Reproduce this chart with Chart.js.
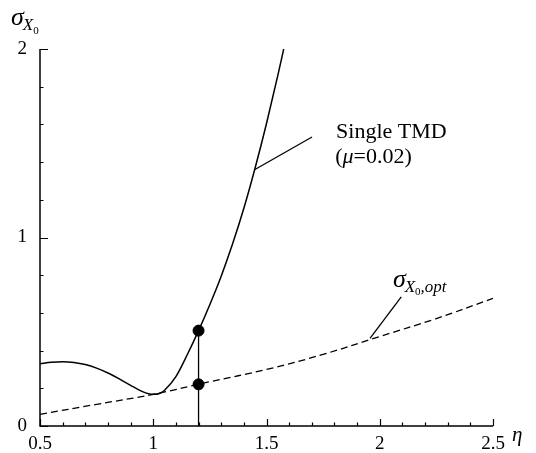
<!DOCTYPE html>
<html>
<head>
<meta charset="utf-8">
<script src="https://cdn.jsdelivr.net/npm/chart.js@4.4.1/dist/chart.umd.min.js"></script>
<style>
  html, body { margin: 0; padding: 0; background: #fff; }
  canvas { display: block; }
</style>
</head>
<body>
<canvas id="tmdChart" width="536" height="453"></canvas>
<script>
// response of the single TMD (mu = 0.02) against frequency ratio eta
const etaSingle = [0.5, 0.55, 0.6, 0.65, 0.7, 0.75, 0.8, 0.85, 0.9, 0.95, 0.98, 1.0, 1.03, 1.05, 1.1, 1.15, 1.2, 1.25, 1.3, 1.35, 1.4, 1.45, 1.5, 1.55, 1.576];
const sigmaSingle = [0.330, 0.338, 0.341, 0.337, 0.326, 0.307, 0.281, 0.250, 0.216, 0.184, 0.171, 0.168, 0.174, 0.190, 0.262, 0.378, 0.506, 0.645, 0.795, 0.965, 1.155, 1.370, 1.605, 1.860, 2.0];

// optimal response
const etaOpt = [0.5, 0.75, 1.0, 1.25, 1.5, 1.75, 2.0, 2.25, 2.5];
const sigmaOpt = [0.062, 0.115, 0.168, 0.235, 0.300, 0.380, 0.475, 0.570, 0.677];

// marked design point
const markEta = [1.2, 1.2];
const markSigma = [0.506, 0.221];

// leader lines for the curve labels
const singleLeaderEta = [1.445, 1.701];
const singleLeaderSigma = [1.358, 1.533];
const optLeaderEta = [1.957, 2.095];
const optLeaderSigma = [0.465, 0.685];

const xTicks = [0.5, 1, 1.5, 2, 2.5];
const yTicks = [0, 1, 2];

const serif = '"Liberation Serif", "Times New Roman", serif';

const pts = (xs, ys) => xs.map((x, i) => ({ x: x, y: ys[i] }));

// draws a run of text pieces, each with its own font and vertical shift
function drawRun(ctx, x, y, parts) {
  parts.forEach(p => {
    ctx.font = p.font;
    ctx.fillText(p.text, x, y + (p.dy || 0));
    x += ctx.measureText(p.text).width + (p.gap || 0);
  });
}

const axisPlugin = {
  id: 'axisPlugin',
  afterDraw(chart) {
    const { ctx, chartArea: a, scales: { x, y } } = chart;
    ctx.save();
    ctx.strokeStyle = '#000';
    ctx.lineWidth = 1.5;
    ctx.beginPath();
    ctx.moveTo(a.left, a.top);
    ctx.lineTo(a.left, a.bottom);
    ctx.lineTo(a.right, a.bottom);
    ctx.stroke();

    // inward tick marks, longer on the labelled values
    ctx.lineWidth = 1.2;
    ctx.beginPath();
    for (let i = 0; i <= 20; i++) {
      const v = 0.5 + i * 0.1;
      const px = Math.round(x.getPixelForValue(v)) + 0.5;
      const len = i % 5 === 0 ? 7 : 3.5;
      ctx.moveTo(px, a.bottom);
      ctx.lineTo(px, a.bottom - len);
    }
    for (let i = 0; i <= 10; i++) {
      const v = i * 0.2;
      const py = Math.round(y.getPixelForValue(v)) + 0.5;
      const len = i % 5 === 0 ? 8 : 3.5;
      ctx.moveTo(a.left, py);
      ctx.lineTo(a.left + len, py);
    }
    ctx.stroke();

    // axis titles and curve labels
    ctx.fillStyle = '#000';
    ctx.textBaseline = 'alphabetic';
    ctx.textAlign = 'left';
    drawRun(ctx, a.left - 29, a.top - 24, [
      { text: 'σ', font: 'italic 26px ' + serif, gap: -1 },
      { text: 'X', font: 'italic 17px ' + serif, dy: 5 },
      { text: '0', font: '11px ' + serif, dy: 9 }
    ]);
    drawRun(ctx, a.right + 19, a.bottom + 15, [
      { text: 'η', font: 'italic 21px ' + serif }
    ]);

    ctx.font = '22px ' + serif;
    ctx.fillText('Single TMD', x.getPixelForValue(1.807), y.getPixelForValue(1.528));
    drawRun(ctx, x.getPixelForValue(1.803), y.getPixelForValue(1.395), [
      { text: '(', font: '22px ' + serif },
      { text: 'μ', font: 'italic 22px ' + serif },
      { text: '=0.02)', font: '22px ' + serif }
    ]);

    drawRun(ctx, x.getPixelForValue(2.058), y.getPixelForValue(0.737), [
      { text: 'σ', font: 'italic 26px ' + serif, gap: -1 },
      { text: 'X', font: 'italic 17px ' + serif, dy: 5 },
      { text: '0', font: '11px ' + serif, dy: 8 },
      { text: ',opt', font: 'italic 17px ' + serif, dy: 5 }
    ]);
    ctx.restore();
  }
};

const lineStyle = {
  borderColor: '#000',
  backgroundColor: '#000',
  pointRadius: 0,
  fill: false
};

new Chart(document.getElementById('tmdChart').getContext('2d'), {
  type: 'line',
  data: {
    datasets: [
      Object.assign({ data: pts(etaSingle, sigmaSingle), borderWidth: 1.5, cubicInterpolationMode: 'monotone' }, lineStyle),
      Object.assign({ data: pts(etaOpt, sigmaOpt), borderWidth: 1.3, borderDash: [7, 4], tension: 0.4 }, lineStyle),
      Object.assign({ data: pts(markEta, [0, markSigma[0]]), borderWidth: 1.3 }, lineStyle),
      Object.assign({ data: pts(singleLeaderEta, singleLeaderSigma), borderWidth: 1.3 }, lineStyle),
      Object.assign({ data: pts(optLeaderEta, optLeaderSigma), borderWidth: 1.3 }, lineStyle),
      {
        type: 'scatter',
        data: pts(markEta, markSigma),
        pointRadius: 5.5,
        pointBackgroundColor: '#000',
        pointBorderColor: '#000',
        showLine: false
      }
    ]
  },
  options: {
    responsive: false,
    animation: false,
    events: [],
    layout: { padding: { left: 0, right: 43, top: 49, bottom: 0 } },
    plugins: { legend: { display: false }, tooltip: { enabled: false } },
    scales: {
      x: {
        type: 'linear',
        min: 0.5,
        max: 2.5,
        afterBuildTicks: s => { s.ticks = xTicks.map(v => ({ value: v })); },
        afterFit: s => { s.height = 27; },
        grid: { display: false, drawTicks: false },
        border: { display: false },
        ticks: {
          color: '#000',
          font: { family: serif, size: 19 },
          padding: 7,
          maxRotation: 0,
          autoSkip: false,
          callback: v => String(v)
        }
      },
      y: {
        type: 'linear',
        min: 0,
        max: 2,
        afterBuildTicks: s => { s.ticks = yTicks.map(v => ({ value: v })); },
        afterFit: s => { s.width = 40; },
        grid: { display: false, drawTicks: false },
        border: { display: false },
        ticks: {
          color: '#000',
          font: { family: serif, size: 19 },
          padding: 13,
          callback: v => String(v)
        }
      }
    }
  },
  plugins: [axisPlugin]
});
</script>
</body>
</html>
